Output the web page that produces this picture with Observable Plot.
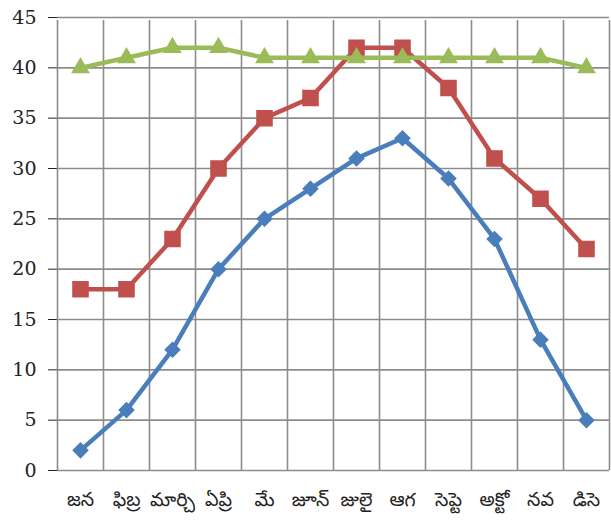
<!DOCTYPE html>
<html>
<head>
<meta charset="utf-8">
<script src="https://cdn.jsdelivr.net/npm/d3@7"></script>
<script src="https://cdn.jsdelivr.net/npm/@observablehq/plot@0.6"></script>
<style>
  body { margin: 0; background: #fff; }
  #chart [aria-label^="x-axis"] text { font-family: "Noto Sans Telugu", "Noto Sans", sans-serif; font-size: 19px; }
</style>
</head>
<body>
<div id="chart"></div>
<script>
const months = ["జన", "ఫిబ్ర", "మార్చి", "ఏప్రి", "మే", "జూన్", "జులై", "ఆగ", "సెప్టె", "అక్టో", "నవ", "డిసె"];
const seriesBlue = [2, 6, 12, 20, 25, 28, 31, 33, 29, 23, 13, 5];
const seriesRed = [18, 18, 23, 30, 35, 37, 42, 42, 38, 31, 27, 22];
const seriesGreen = [40, 41, 42, 42, 41, 41, 41, 41, 41, 41, 41, 40];
const yTicks = [0, 5, 10, 15, 20, 25, 30, 35, 40, 45];

const idx = months.map((_, i) => i);
const bounds = d3.range(months.length + 1).map(i => i - 0.5);
const mk = (vals) => idx.map(i => ({i, v: vals[i]}));
const blue = mk(seriesBlue), red = mk(seriesRed), green = mk(seriesGreen);

const chart = Plot.plot({
  width: 611,
  height: 520,
  marginLeft: 57,
  marginRight: 2,
  marginTop: 17,
  marginBottom: 50,
  style: {fontSize: "19px", fontFamily: "'DejaVu Serif', 'Liberation Serif', serif", background: "#fff", color: "#222"},
  x: {domain: [-0.5, months.length - 0.5], ticks: idx, tickFormat: i => months[i], tickSize: 0, tickPadding: 22, label: null},
  y: {domain: [0, 45], ticks: yTicks, tickSize: 9, tickPadding: 12, label: null},
  marks: [
    Plot.ruleY(yTicks, {stroke: "#8c8c8c", strokeWidth: 1.6}),
    Plot.ruleX(bounds, {y1: 0, y2: 45, stroke: "#8c8c8c", strokeWidth: 1.6, insetBottom: -3}),
    Plot.line(blue, {x: "i", y: "v", stroke: "#4a7ebb", strokeWidth: 4.5}),
    Plot.dot(blue, {x: "i", y: "v", symbol: "diamond2", r: 6.5, fill: "#4a7ebb", stroke: "#4a7ebb"}),
    Plot.line(red, {x: "i", y: "v", stroke: "#c0504d", strokeWidth: 4.5}),
    Plot.dot(red, {x: "i", y: "v", symbol: "square", r: 8.5, fill: "#c0504d", stroke: "#c0504d"}),
    Plot.line(green, {x: "i", y: "v", stroke: "#9bbb59", strokeWidth: 4.5}),
    Plot.dot(green, {x: "i", y: "v", symbol: "triangle", r: 6, fill: "#9bbb59", stroke: "#9bbb59"})
  ]
});
document.getElementById("chart").appendChild(chart);
</script>
</body>
</html>
